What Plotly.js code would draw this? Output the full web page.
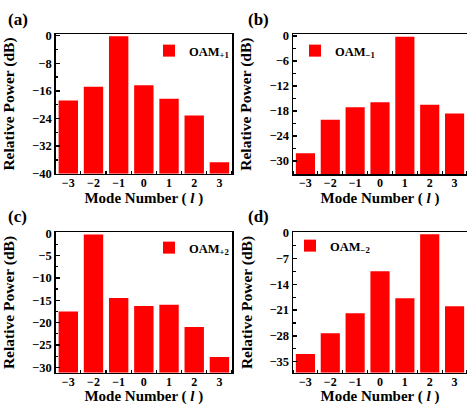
<!DOCTYPE html>
<html>
<head>
<meta charset="utf-8">
<script src="https://cdn.plot.ly/plotly-3.0.1.min.js"></script>
<style>html,body{margin:0;padding:0;background:#fff;}#chart{width:467px;height:405px;}</style>
</head>
<body>
<div id="chart"></div>
<script>
// ---- data ----
const modes = [-3, -2, -1, 0, 1, 2, 3];
const modeTickLabels = ['−3', '−2', '−1', '0', '1', '2', '3'];
const powerA = [-18.8, -14.8, -0.2, -14.4, -18.3, -23.1, -36.7]; // OAM+1
const powerB = [-28.1, -20.1, -17.1, -15.9, -0.2, -16.5, -18.6]; // OAM-1
const powerC = [-17.5, -0.3, -14.5, -16.3, -16.0, -21.0, -27.7]; // OAM+2
const powerD = [-32.9, -27.3, -21.9, -10.5, -17.8, -0.4, -20.0]; // OAM-2
const seriesNames = ['OAM<sub>+1</sub>', 'OAM<sub>−1</sub>', 'OAM<sub>+2</sub>', 'OAM<sub>−2</sub>'];
const panelLetters = ['(a)', '(b)', '(c)', '(d)'];
const yTickStep = [8, 6, 5, 7];
const yBottom = [-40, -33.1, -31.2, -38];
const yTop = [0.4, 0.4, 0.2, 0.1];

// ---- layout helpers ----
const W = 467, H = 405;
const allPower = [powerA, powerB, powerC, powerD];
const panelBoxes = [ // [left, right, top, bottom] px
  [55.7, 232, 34.3, 173.7],
  [293, 467, 34.3, 174],
  [55.7, 232, 232.3, 372.7],
  [293, 467, 232.3, 372.7]
];
const legendPos = [[149, 36], [295, 36], [149, 233], [290, 231]];
const letterPos = [[6, 19], [246, 19], [6, 217], [246, 217]];

const serif = 'Liberation Serif, Times New Roman, serif';
const traces = [];
const layout = {
  width: W, height: H,
  margin: {l: 0, r: 0, t: 0, b: 0},
  paper_bgcolor: '#fff', plot_bgcolor: '#fff',
  font: {family: serif, color: '#000', weight: 'bold'},
  annotations: [],
  showlegend: true
};

allPower.forEach((vals, i) => {
  const n = i === 0 ? '' : String(i + 1);
  const floor = yBottom[i];
  traces.push({
    type: 'bar',
    x: modes,
    y: vals.map(v => v - floor),
    base: floor,
    customdata: vals,
    hovertemplate: '%{x}: %{customdata} dB<extra></extra>',
    width: 0.77,
    marker: {color: '#ff0000', line: {width: 0}},
    name: seriesNames[i],
    xaxis: 'x' + n, yaxis: 'y' + n,
    legend: 'legend' + n
  });
  const b = panelBoxes[i];
  layout['xaxis' + n] = {
    domain: [b[0] / W, b[1] / W],
    anchor: 'y' + n,
    range: [-3.5, 3.5],
    tickvals: modes, ticktext: modeTickLabels,
    ticks: '',
    ticklabelstandoff: -3,
    minor: {ticks: 'inside', tick0: 0.5, dtick: 1, ticklen: 3, tickwidth: 1.2, tickcolor: '#000'},
    showline: true, mirror: true, linecolor: '#000', linewidth: 1.5,
    showgrid: false, zeroline: false, fixedrange: true,
    tickfont: {size: 12, family: serif, weight: 'bold'},
    title: {text: 'Mode Number ( <i>l</i> )', font: {size: 15, family: serif, weight: 'bold'}, standoff: 1},
    automargin: 'left'
  };
  layout['yaxis' + n] = {
    domain: [1 - b[3] / H, 1 - b[2] / H],
    anchor: 'x' + n,
    range: [floor, yTop[i]],
    tick0: 0, dtick: yTickStep[i],
    ticks: 'inside', ticklen: 4, tickwidth: 1.3, tickcolor: '#000',
    minor: {ticks: 'inside', dtick: yTickStep[i] / 2, ticklen: 2.5, tickwidth: 1.2, tickcolor: '#000'},
    showline: true, mirror: true, linecolor: '#000', linewidth: 1.5,
    showgrid: false, zeroline: false, fixedrange: true,
    tickfont: {size: 12.5, family: serif, weight: 'bold'},
    title: {text: 'Relative Power (dB)', font: {size: 15.5, family: serif, weight: 'bold'}},
    automargin: false
  };
  layout['legend' + n] = {
    x: legendPos[i][0] / W, y: 1 - legendPos[i][1] / H,
    xanchor: 'left', yanchor: 'top',
    bgcolor: 'rgba(0,0,0,0)', borderwidth: 0,
    font: {size: 12.5, family: serif, weight: 'bold', color: '#000'}
  };
  layout.annotations.push({
    xref: 'paper', yref: 'paper',
    x: letterPos[i][0] / W, y: 1 - letterPos[i][1] / H,
    xanchor: 'left', yanchor: 'middle',
    text: panelLetters[i], showarrow: false,
    font: {size: 17, family: serif, weight: 'bold', color: '#000'}
  });
});

Plotly.newPlot('chart', traces, layout, {displayModeBar: false, staticPlot: true});
</script>
</body>
</html>
